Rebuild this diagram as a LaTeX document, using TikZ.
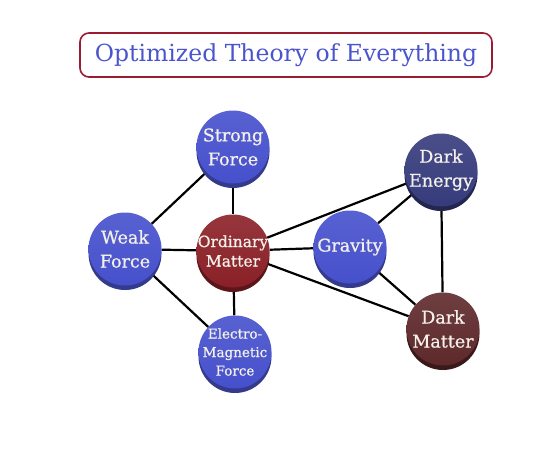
\documentclass[tikz,border=0pt]{standalone}
\usepackage{fontspec}
\setmainfont{DejaVu Serif}
\newfontfamily\ballfont[FakeBold=0.7]{DejaVu Serif}
\usetikzlibrary{backgrounds,shadows}
\definecolor{ballblue}{HTML}{4650CC}
\definecolor{ballbluesh}{HTML}{343B8C}
\definecolor{ballred}{HTML}{8A2027}
\definecolor{ballredsh}{HTML}{5A161A}
\definecolor{ballnavy}{HTML}{363B7C}
\definecolor{ballnavysh}{HTML}{23264F}
\definecolor{ballbrown}{HTML}{5E292B}
\definecolor{ballbrownsh}{HTML}{3A191A}
\definecolor{titleblue}{HTML}{4A55CC}
\definecolor{titlered}{HTML}{9B1B30}
\definecolor{balltext}{HTML}{F4F1EA}
\begin{document}
\begin{tikzpicture}[x=1pt,y=-1pt,
  ball/.style n args={2}{circle, minimum size=73pt, inner sep=-8pt, align=center,
    text=balltext, font=\ballfont\fontsize{17.5}{24}\selectfont,
    top color=#1!90!white, bottom color=#1,
    drop shadow={shadow xshift=0pt, shadow yshift=-4.5pt, fill=#2, opacity=1}},
  link/.style={draw=black, line width=2.2pt}]
\useasboundingbox (0,0) rectangle (560,450);
\node[draw=titlered, line width=1.6pt, rounded corners=9pt, minimum width=412pt,
  minimum height=44pt, text=titleblue, font=\fontsize{23.5}{26}\selectfont] (title) at (286,55)
  {Optimized Theory of Everything};
\node[ball={ballblue}{ballbluesh}] (strong) at (233,147) {Strong\\Force};
\node[ball={ballblue}{ballbluesh}] (weak) at (125,249) {Weak\\Force};
\node[ball={ballred}{ballredsh}, font=\ballfont\fontsize{15.5}{19.5}\selectfont] (ord) at (233,251) {Ordinary\\Matter};
\node[ball={ballblue}{ballbluesh}, font=\ballfont\fontsize{13.5}{18.5}\selectfont] (em) at (235,352) {Electro-\\Magnetic\\Force};
\node[ball={ballnavy}{ballnavysh}] (de) at (441,170) {Dark\\Energy};
\node[ball={ballblue}{ballbluesh}] (grav) at (350,247) {Gravity};
\node[ball={ballbrown}{ballbrownsh}] (dm) at (443,329) {Dark\\Matter};
\begin{scope}[on background layer]
\draw[link] (strong) -- (weak);
\draw[link] (strong) -- (ord);
\draw[link] (weak) -- (ord);
\draw[link] (weak) -- (em);
\draw[link] (ord) -- (em);
\draw[link] (ord) -- (de);
\draw[link] (ord) -- (grav);
\draw[link] (ord) -- (dm);
\draw[link] (grav) -- (de);
\draw[link] (grav) -- (dm);
\draw[link] (de) -- (dm);
\end{scope}
\end{tikzpicture}
\end{document}
